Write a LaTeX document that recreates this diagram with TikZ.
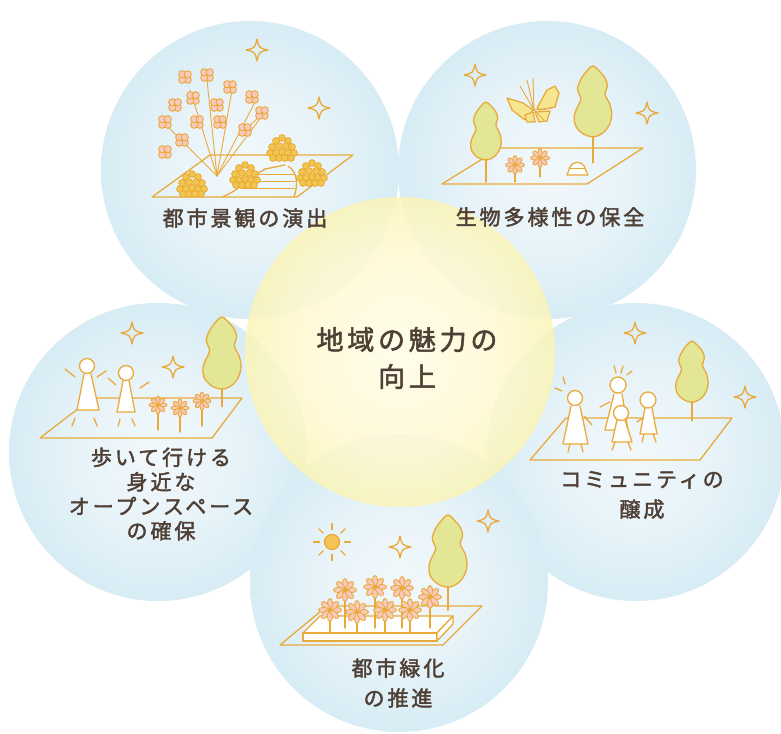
\documentclass[tikz,border=0pt]{standalone}
\usepackage{fontspec}
\newfontfamily\jpfont{Noto Sans CJK JP}[LetterSpace=14, FakeBold=2]
\definecolor{ink}{HTML}{4F4036}
\definecolor{linec}{HTML}{EAAA3A}
\definecolor{leaf}{HTML}{E2E695}
\definecolor{butter}{HTML}{F6E690}
\definecolor{petal}{HTML}{F8C9BD}
\definecolor{bush}{HTML}{F2C54C}
\definecolor{sun}{HTML}{F6C455}
\definecolor{bubblecore}{HTML}{F1F8FB}
\definecolor{bubblein}{HTML}{E9F4F9}
\definecolor{bubblemid}{HTML}{D3EAF4}
\definecolor{bubbleedge}{HTML}{BFDFED}
\definecolor{bubbleouter}{HTML}{AFD6E8}
\definecolor{bubblerim}{HTML}{A1CCE2}
\definecolor{glowcore}{HTML}{FFFDE8}
\definecolor{glowin}{HTML}{FFF9D2}
\definecolor{glowmid}{HTML}{F9F2A2}
\definecolor{glowouter}{HTML}{F2EA7E}
\definecolor{glowedge}{HTML}{ECE263}
\pgfdeclareradialshading{bubble}{\pgfpoint{0bp}{0bp}}{color(0bp)=(bubblecore); color(12bp)=(bubblein); color(28bp)=(bubblemid); color(40bp)=(bubbleedge); color(47bp)=(bubbleouter); color(50bp)=(bubblerim)}
\pgfdeclareradialshading{glow}{\pgfpoint{0bp}{0bp}}{color(0bp)=(glowcore); color(16bp)=(glowin); color(32bp)=(glowmid); color(45bp)=(glowouter); color(50bp)=(glowedge)}
\tikzset{
  ill/.style={draw=linec, line width=1.3, line join=round, line cap=round},
  thin ill/.style={ill, line width=0.9},
  lbl/.style={text=ink, align=center, inner sep=0pt},
  sparkle/.pic={\draw[ill] (0,-11) .. controls (2,-2) .. (11,0) .. controls (2,2) .. (0,11) .. controls (-2,2) .. (-11,0) .. controls (-2,-2) .. (0,-11) -- cycle;},
  tree/.pic={
    \draw[ill, fill=leaf] plot[smooth cycle, tension=0.6] coordinates {(0,0) (6,5) (11,11) (13,18) (11,26) (15,34) (17,44) (15,53) (10,60) (3,64) (-3,64) (-10,61) (-16,54) (-17,45) (-14,37) (-11,30) (-14,21) (-11,12) (-6,5)};
    \draw[ill] (0,64) -- (0,#1);},
  daisy/.pic={
    \foreach \a in {0,45,...,315} \draw[thin ill, fill=petal, rotate=\a] (5.5,0) ellipse (4.5 and 2.3);
    \fill[linec] (0,0) circle (2);},
  flowerfour/.pic={
    \foreach \a in {45,135,225,315} \draw[thin ill, fill=petal] (\a:3.9) circle (3.6);
    \fill[linec] (0,0) circle (1.2);},
  shrub/.pic={
    \foreach \p in {(0,-10),(-6,-7),(6,-7),(-10,-1),(-3,-2),(4,-2),(10,-1),(-12,5),(-6,5),(0,4),(6,5),(12,5),(-9,10),(-3,10),(3,10),(9,10)}
      \draw[draw=linec, line width=0.8, fill=bush] \p circle (3.4);}
}
\begin{document}
\begin{tikzpicture}[x=1pt,y=-1pt]
\useasboundingbox (0,0) rectangle (781,733);
\clip (0,0) rectangle (781,733);
\fill[white] (0,0) rectangle (781,733);

% the five theme bubbles
\shade[shading=bubble] (250,170) circle (149);
\shade[shading=bubble] (547,170) circle (149);
\shade[shading=bubble] (158,452) circle (149);
\shade[shading=bubble] (636,452) circle (149);
\shade[shading=bubble] (399,583) circle (149);
% the central glow
\shade[shading=glow, fill opacity=0.85] (400,352) circle (155);

% ---- townscape: flowering branches, shrubs and a path
\draw[ill] (152,197) -- (210,155) -- (353,155) -- (297,197) -- cycle;
\draw[ill] (222,197) .. controls (240,190) and (252,176) .. (265,169) -- (285,165);
\draw[ill] (288,166) .. controls (298,172) and (298,186) .. (294,197);
\foreach \y/\xa in {174/258,181/250,188/241} \draw[thin ill] (\xa,\y) -- (295,\y);
\foreach \e in {(165,124),(190,90),(207,80),(232,90),(256,100),(268,108)} \draw[thin ill] (217,176) -- \e;
\draw[thin ill] (240,135) -- (262,114);
\foreach \p in {(185,77),(207,75),(230,87),(252,97),(175,105),(193,98),(217,105),(262,113),(165,122),(197,122),(220,122),(245,130),(182,140),(165,152)}
  \pic at \p {flowerfour};
\foreach \p in {(192,184),(245,175),(282,148),(312,173)} \pic at \p {shrub};
\pic at (257,50) {sparkle};
\pic at (319,108) {sparkle};

% ---- biodiversity: trees, butterfly, flowers, stump
\draw[ill] (442,184) -- (500,148) -- (643,148) -- (587,184) -- cycle;
\pic[scale=0.9] at (486,102) {tree=89};
\pic[scale=1.1] at (593,66) {tree=88};
\draw[ill, fill=butter] (507,98) -- (523,103) -- (533,110) -- (525,120) -- (512,110) -- cycle;
\draw[ill, fill=butter] (537,108) -- (547,90) -- (555,86) -- (559,93) -- (555,107) -- (540,110) -- cycle;
\draw[ill, fill=butter] (535,112) -- (550,111) -- (547,121) -- (539,122) -- cycle;
\draw[ill, fill=butter] (525,115) -- (533,112) -- (535,122) -- (527,122) -- cycle;
\foreach \e in {(533,78),(520,86),(527,80),(552,108),(544,120)} \draw[thin ill] (534,110) -- \e;
\draw[ill] (515,165) -- (515,182);
\draw[ill] (540,158) -- (540,177);
\pic[scale=0.95] at (515,165) {daisy};
\pic[scale=0.95] at (540,158) {daisy};
\draw[ill, fill=white] (567,175) -- (570,167) .. controls (572,161) and (582,161) .. (584,166) -- (588,175) -- cycle;
\draw[thin ill] (570,168) -- (585,168);
\pic at (475,75) {sparkle};
\pic at (647,113) {sparkle};

% ---- open space: two walkers, flowers, a tree
\draw[ill] (40,438) -- (92,398) -- (242,398) -- (212,438) -- cycle;
\pic[scale=1.12] at (222,317) {tree=80};
\foreach \x/\yt in {158/430,180/432,202/426} \draw[ill] (\x,\yt-24) -- (\x,\yt);
\pic[scale=0.9] at (158,405) {daisy};
\pic[scale=0.9] at (180,408) {daisy};
\pic[scale=0.9] at (202,401) {daisy};
\draw[ill, fill=white] (84,374) -- (77,410) -- (99,410) -- (91,374);
\draw[ill, fill=white] (87,366) circle (7.5);
\draw[ill] (65,369) -- (75,377) (97,377) -- (106,371) (75,418) -- (72,426) (94,418) -- (97,426);
\draw[ill, fill=white] (123,381) -- (117,412) -- (135,412) -- (129,381);
\draw[ill, fill=white] (126,373) circle (7.5);
\draw[ill] (108,378) -- (116,385) (140,388) -- (149,382) (120,419) -- (118,426) (132,419) -- (135,426);
\pic at (132,333) {sparkle};
\pic at (173,367) {sparkle};

% ---- community: a family gathering
\draw[ill] (530,460) -- (566,418) -- (732,418) -- (700,460) -- cycle;
\pic[scale=0.95] at (692,341) {tree=84};
\draw[ill, fill=white] (571,406) -- (563,444) -- (588,444) -- (580,406);
\draw[ill, fill=white] (575,398) circle (7.5);
\draw[ill] (584,416) -- (592,425) (570,444) -- (568,452) (581,444) -- (583,452)
           (563,377) -- (565,384) (555,388) -- (562,391);
\draw[ill, fill=white] (614,394) -- (605,430) -- (628,430) -- (622,394);
\draw[ill, fill=white] (618,385) circle (8);
\draw[ill] (600,407) -- (610,402) (614,366) -- (616,373) (623,366) -- (621,373) (632,371) -- (627,375);
\draw[ill, fill=white] (645,408) -- (640,434) -- (657,434) -- (652,408);
\draw[ill, fill=white] (648,400) circle (8);
\draw[ill] (643,418) -- (637,422) (644,434) -- (642,442) (653,434) -- (656,442);
\draw[ill, fill=white] (617,420) -- (612,442) -- (632,442) -- (625,420);
\draw[ill, fill=white] (621,413) circle (7.5);
\draw[ill] (615,442) -- (612,450) (628,442) -- (631,450);
\pic at (635,333) {sparkle};
\pic at (745,397) {sparkle};

% ---- urban greening: raised flower bed, tree, sun
\draw[ill] (280,645) -- (327,606) -- (482,606) -- (443,645) -- cycle;
\draw[ill, fill=white] (303,633) -- (320,616) -- (453,616) -- (437,633) -- cycle;
\draw[ill, fill=white] (303,633) rectangle (437,641);
\draw[ill, fill=white] (437,633) -- (453,616) -- (453,624) -- (437,641) -- cycle;
\pic[scale=1.12] at (448,515) {tree=85};
\foreach \x/\y in {345/590,375/587,402/588,430/597} {\draw[ill] (\x,\y) -- (\x,628); \pic[scale=1.15] at (\x,\y) {daisy};}
\foreach \x/\y in {330/610,357/612,385/610,410/610} {\draw[ill] (\x,\y) -- (\x,632); \pic[scale=1.15] at (\x,\y) {daisy};}
\draw[ill, fill=sun] (332,542) circle (7.5);
\begin{scope}[shift={(332,542)}]
  \foreach \a in {0,45,...,315} \draw[ill] (\a:12.5) -- (\a:18.5);
\end{scope}
\pic at (400,547) {sparkle};
\pic at (488,521) {sparkle};

% ---- labels
\node[lbl, font=\jpfont\fontsize{21}{25}\selectfont] (t-scape) at (245,218) {都市景観の演出};
\node[lbl, font=\jpfont\fontsize{21}{25}\selectfont] (t-bio) at (550,217) {生物多様性の保全};
\node[lbl, font=\jpfont\fontsize{21}{24.5}\selectfont] (t-open) at (161,494) {歩いて行ける\\身近な\\オープンスペース\\の確保};
\node[lbl, font=\jpfont\fontsize{21}{30}\selectfont] (t-comm) at (642,495) {コミュニティの\\醸成};
\node[lbl, font=\jpfont\fontsize{21}{30}\selectfont] (t-green) at (398,683) {都市緑化\\の推進};
\node[lbl, font=\jpfont\fontsize{27}{37}\selectfont] (t-core) at (407,358) {地域の魅力の\\向上};
\end{tikzpicture}
\end{document}
